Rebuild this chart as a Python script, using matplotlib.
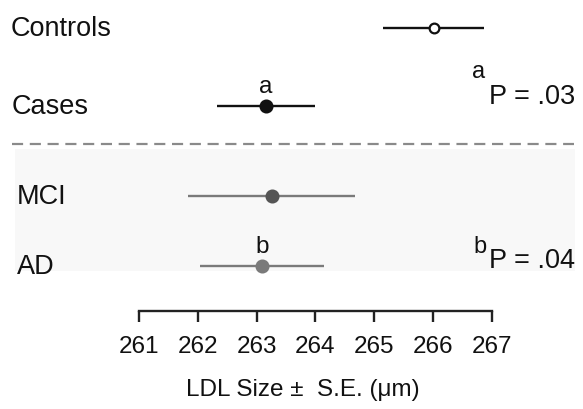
import matplotlib.pyplot as plt
import matplotlib.patches as mpatches

plt.rcParams['font.family'] = ['Liberation Sans', 'DejaVu Sans']

groups = ['Controls', 'Cases', 'MCI', 'AD']
means = [266.01, 263.16, 263.26, 263.09]
se = [0.86, 0.84, 1.42, 1.05]
ticks = [261, 262, 263, 264, 265, 266, 267]

# layout (pixel rows, y axis inverted)
rows = [29, 107, 197, 267]
lab_x = [11, 12, 17, 17]
face = ['white', '#111111', '#555555', '#7a7a7a']
edge = ['#111111', '#111111', '#555555', '#7a7a7a']
lcol = ['#111111', '#111111', '#7a7a7a', '#7a7a7a']
msize = [7, 8.5, 8.5, 8.5]

fig = plt.figure(figsize=(5.83, 4.10), dpi=100)
ax = fig.add_axes([0, 0, 1, 1])
px = 58.83
ax.set_xlim(261 - 139 / px, 261 + (583 - 139) / px)
ax.set_ylim(410, 0)

def xp(p):
    return 261 + (p - 139) / px

# faint shading of the lower panel
ax.add_patch(mpatches.Rectangle((xp(15), 150), xp(575) - xp(15), 122,
                                facecolor='#f8f8f8', edgecolor='none', zorder=0))

for i in range(len(groups)):
    ax.errorbar(means[i], rows[i], xerr=se[i], fmt='o', color=lcol[i],
                ecolor=lcol[i], elinewidth=1.7, capsize=0,
                markerfacecolor=face[i], markeredgecolor=edge[i],
                markersize=msize[i], markeredgewidth=1.6, zorder=3)
    ax.text(xp(lab_x[i]), rows[i], groups[i], fontsize=19.5, va='center', ha='left',
            color='#111111')

ax.axhline(145, xmin=12 / 583, xmax=574 / 583, color='#8a8a8a', lw=1.6,
           ls=(0, (5, 3)))

ax.text(means[1], rows[1] - 9, 'a', fontsize=17.5, ha='center', va='bottom', color='#111111')
ax.text(means[3], rows[3] - 9, 'b', fontsize=17.5, ha='center', va='bottom', color='#111111')
ax.text(xp(472), 72, 'a', fontsize=17, ha='left', va='center', color='#111111')
ax.text(xp(489), 97, 'P = .03', fontsize=19.5, ha='left', va='center', color='#111111')
ax.text(xp(473), 247, 'b', fontsize=17, ha='left', va='center', color='#111111')
ax.text(xp(489), 261, 'P = .04', fontsize=19.5, ha='left', va='center', color='#111111')

for s in ['top', 'left', 'right']:
    ax.spines[s].set_visible(False)
ax.spines['bottom'].set_position(('data', 312))
ax.spines['bottom'].set_bounds(ticks[0], ticks[-1])
ax.spines['bottom'].set_linewidth(1.7)
ax.spines['bottom'].set_color('#222222')
ax.set_xticks(ticks)
ax.set_xticklabels([str(t) for t in ticks], fontsize=17.5, color='#111111')
ax.tick_params(axis='x', direction='out', length=8, width=1.7, pad=9,
               color='#222222')
ax.set_yticks([])

ax.text(xp(303), 390, 'LDL Size \u00b1  S.E. (\u03bcm)', fontsize=17.5,
        ha='center', va='center', color='#111111')

fig.savefig('out.png', dpi=100)
